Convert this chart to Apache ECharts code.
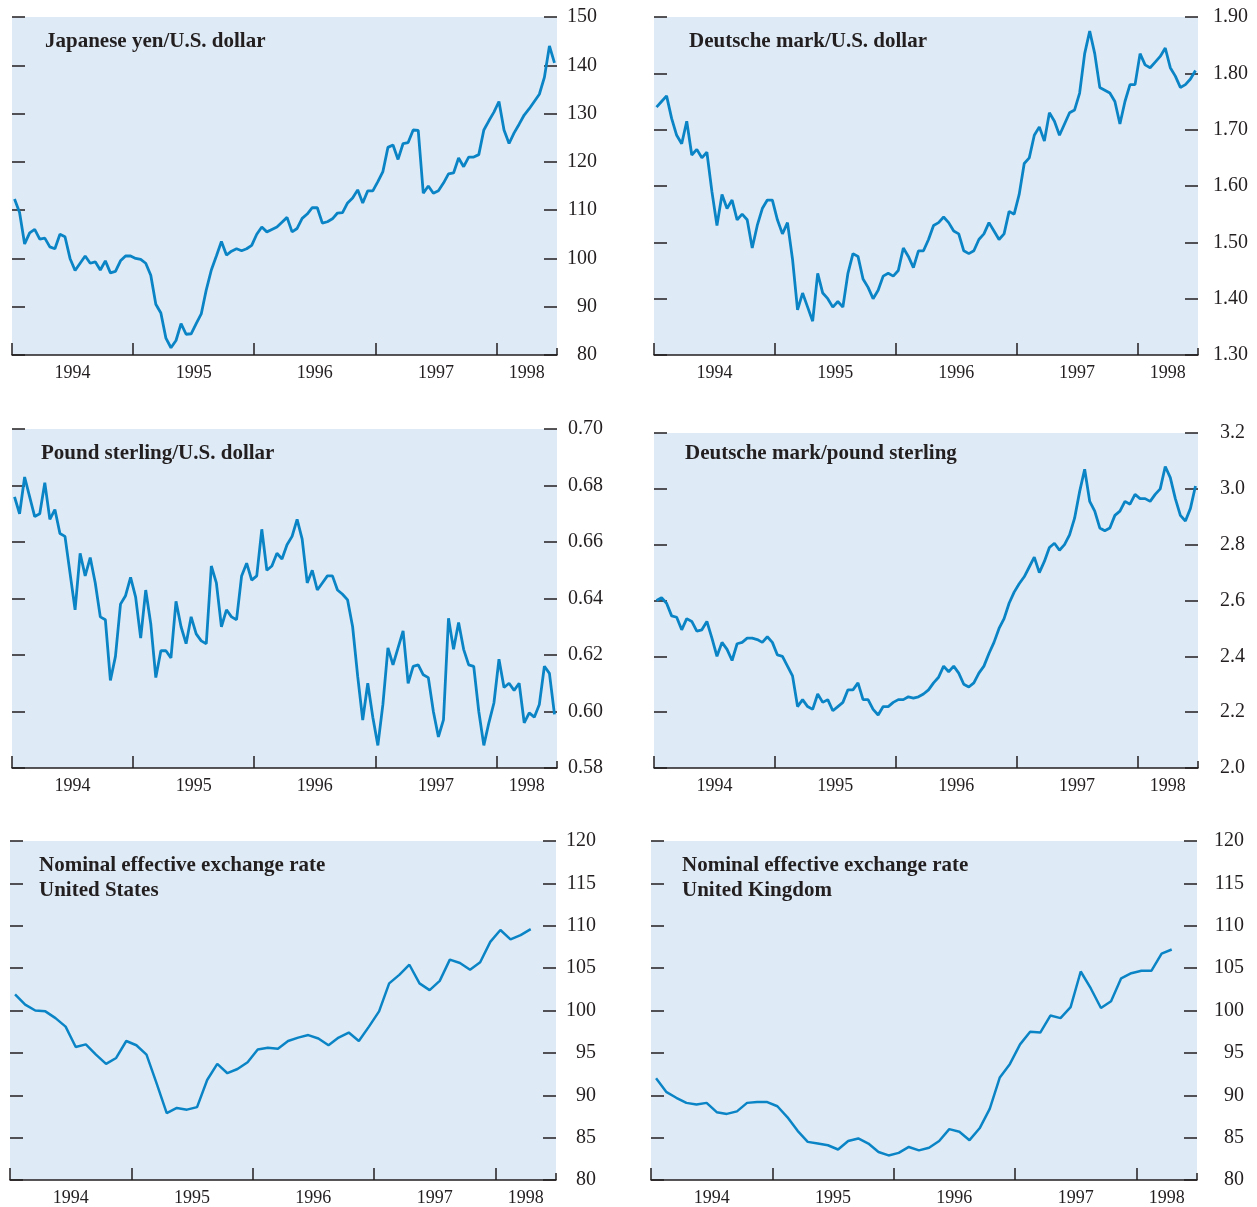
<!DOCTYPE html>
<html>
<head>
<meta charset="utf-8">
<title>Exchange rates 1994-98</title>
<script src="https://cdn.jsdelivr.net/npm/echarts@6/dist/echarts.min.js"></script>
<style>
  html, body { margin: 0; padding: 0; background: #fff; }
  #main { width: 1257px; height: 1207px; }
</style>
</head>
<body>
<div id="main"></div>
<script>
// x axis: years as decimal values
var yearTicks = [1994, 1995, 1996, 1997, 1998];
var endTick = [1998.5];
var yearLabelPos = [1994.5, 1995.5, 1996.5, 1997.5, 1998.25];

// semi-monthly readings, Jan 1994 - Jun 1998
var yenUsd = [
  112.3, 109.5, 103, 105.3, 106, 104, 104.2, 102.4, 102, 105, 104.5, 100,
  97.5, 99, 100.5, 99, 99.3, 97.6, 99.5, 97, 97.3, 99.5, 100.5, 100.5,
  100, 99.8, 99, 96.5, 90.5, 88.7, 83.5, 81.5, 83, 86.5, 84.3, 84.4,
  86.5, 88.5, 93.5, 97.6, 100.5, 103.5, 100.7, 101.5, 102, 101.6, 102, 102.7,
  105, 106.5, 105.5, 106, 106.5, 107.5, 108.5, 105.5, 106.2, 108.3, 109.2, 110.5,
  110.5, 107.3, 107.6, 108.2, 109.4, 109.5, 111.5, 112.5, 114.2, 111.5, 114, 114,
  115.9, 118, 123, 123.5, 120.5, 123.8, 124, 126.6, 126.5, 113.5, 115, 113.5,
  114, 115.6, 117.5, 117.7, 120.8, 119, 121, 121, 121.5, 126.6, 128.5, 130.3,
  132.5, 126.6, 123.8, 126, 127.8, 129.7, 131, 132.5, 134, 137.5, 144, 140.5
];
var dmUsd = [
  1.74, 1.75, 1.76, 1.72, 1.69, 1.675, 1.715, 1.655, 1.665, 1.65, 1.66, 1.59,
  1.53, 1.585, 1.56, 1.575, 1.54, 1.55, 1.54, 1.49, 1.53, 1.56, 1.575, 1.575,
  1.54, 1.515, 1.535, 1.47, 1.38, 1.41, 1.385, 1.36, 1.445, 1.41, 1.40, 1.385,
  1.395, 1.385, 1.445, 1.48, 1.475, 1.435, 1.42, 1.40, 1.415, 1.44, 1.445, 1.44,
  1.45, 1.49, 1.475, 1.455, 1.485, 1.485, 1.505, 1.53, 1.535, 1.545, 1.535, 1.52,
  1.515, 1.485, 1.48, 1.485, 1.505, 1.515, 1.535, 1.52, 1.505, 1.515, 1.555, 1.55,
  1.585, 1.64, 1.65, 1.69, 1.705, 1.68, 1.73, 1.715, 1.69, 1.71, 1.73, 1.735,
  1.765, 1.835, 1.875, 1.835, 1.775, 1.77, 1.765, 1.75, 1.71, 1.75, 1.78, 1.78,
  1.835, 1.815, 1.81, 1.82, 1.83, 1.845, 1.81, 1.795, 1.775, 1.78, 1.79, 1.805
];
var gbpUsd = [
  0.676, 0.670, 0.683, 0.676, 0.669, 0.670, 0.681, 0.668, 0.6715, 0.663, 0.662, 0.649,
  0.636, 0.656, 0.648, 0.6545, 0.6455, 0.6335, 0.6325, 0.611, 0.6195, 0.638, 0.641, 0.6475,
  0.6405, 0.626, 0.643, 0.631, 0.612, 0.6215, 0.6215, 0.619, 0.639, 0.630, 0.624, 0.6335,
  0.6275, 0.625, 0.624, 0.6515, 0.6455, 0.630, 0.636, 0.6335, 0.6325, 0.648, 0.6525, 0.6465,
  0.648, 0.6645, 0.650, 0.6515, 0.656, 0.654, 0.659, 0.662, 0.668, 0.661, 0.6455, 0.650,
  0.643, 0.6455, 0.648, 0.648, 0.643, 0.6415, 0.6395, 0.630, 0.6125, 0.597, 0.610, 0.598,
  0.588, 0.6025, 0.6225, 0.6165, 0.6225, 0.6285, 0.610, 0.616, 0.6165, 0.613, 0.612, 0.600,
  0.591, 0.597, 0.633, 0.622, 0.6315, 0.622, 0.6165, 0.616, 0.600, 0.588, 0.596, 0.603,
  0.6185, 0.6085, 0.610, 0.6075, 0.610, 0.596, 0.5995, 0.598, 0.6025, 0.616, 0.6135, 0.599
];
var dmGbp = [
  2.60, 2.61, 2.59, 2.545, 2.54, 2.495, 2.535, 2.525, 2.49, 2.495, 2.525, 2.465,
  2.40, 2.45, 2.425, 2.385, 2.445, 2.45, 2.465, 2.465, 2.46, 2.45, 2.47, 2.45,
  2.405, 2.40, 2.365, 2.33, 2.22, 2.245, 2.22, 2.21, 2.265, 2.235, 2.245, 2.205,
  2.22, 2.235, 2.28, 2.28, 2.305, 2.245, 2.245, 2.21, 2.19, 2.22, 2.22, 2.235,
  2.245, 2.245, 2.255, 2.25, 2.255, 2.265, 2.28, 2.305, 2.325, 2.365, 2.345, 2.365,
  2.34, 2.30, 2.29, 2.305, 2.34, 2.365, 2.41, 2.45, 2.50, 2.535, 2.59, 2.63,
  2.66, 2.685, 2.72, 2.755, 2.70, 2.74, 2.79, 2.805, 2.78, 2.80, 2.835, 2.895,
  2.99, 3.07, 2.955, 2.92, 2.86, 2.85, 2.86, 2.905, 2.92, 2.955, 2.945, 2.98,
  2.965, 2.965, 2.955, 2.98, 3.00, 3.08, 3.04, 2.965, 2.905, 2.885, 2.93, 3.01
];
// monthly, Jan 1994 - Apr 1998
var neerUs = [
  101.9, 100.7, 100.0, 99.9, 99.1, 98.1, 95.7, 96.0, 94.8, 93.7, 94.4, 96.4,
  95.9, 94.8, 91.4, 87.9, 88.5, 88.3, 88.6, 91.8, 93.7, 92.6, 93.1, 93.9,
  95.4, 95.6, 95.5, 96.4, 96.8, 97.1, 96.7, 95.9, 96.8, 97.4, 96.4, 98.1,
  99.9, 103.2, 104.2, 105.4, 103.2, 102.4, 103.5, 106.0, 105.6, 104.8, 105.7, 108.1,
  109.5, 108.4, 108.9, 109.6
];
var neerUk = [
  92.0, 90.4, 89.7, 89.1, 88.9, 89.1, 88.0, 87.8, 88.1, 89.1, 89.2, 89.2,
  88.7, 87.4, 85.8, 84.5, 84.3, 84.1, 83.6, 84.6, 84.9, 84.3, 83.3, 82.9,
  83.2, 83.9, 83.5, 83.8, 84.6, 86.0, 85.7, 84.7, 86.1, 88.4, 92.1, 93.7,
  96.0, 97.5, 97.4, 99.4, 99.1, 100.4, 104.6, 102.6, 100.3, 101.1, 103.8, 104.4,
  104.7, 104.7, 106.7, 107.2
];

var ink = '#231f20';
var lineBlue = '#0b84c6';
var serif = "'Liberation Serif', 'Times New Roman', serif";

function semiMonthly(arr) {
  return arr.map(function (v, i) { return [1994 + (i + 0.5) / 24, v]; });
}
function monthly(arr) {
  return arr.map(function (v, i) { return [1994 + (i + 0.5) / 12, v]; });
}

var panels = [
  { title: 'Japanese yen/U.S. dollar', tx: 45, ty: 29,
    rect: { left: 12, top: 17, width: 545, height: 338 },
    min: 80, max: 150, interval: 10, dec: 0, margin: 40, lw: 2.8, data: semiMonthly(yenUsd) },
  { title: 'Deutsche mark/U.S. dollar', tx: 689, ty: 29,
    rect: { left: 654, top: 17, width: 544, height: 338 },
    min: 1.3, max: 1.9, interval: 0.1, dec: 2, margin: 50, lw: 2.8, data: semiMonthly(dmUsd) },
  { title: 'Pound sterling/U.S. dollar', tx: 41, ty: 441,
    rect: { left: 12, top: 429, width: 545, height: 339 },
    min: 0.58, max: 0.70, interval: 0.02, dec: 2, margin: 46, lw: 2.8, data: semiMonthly(gbpUsd) },
  { title: 'Deutsche mark/pound sterling', tx: 685, ty: 441,
    rect: { left: 654, top: 433, width: 544, height: 335 },
    min: 2.0, max: 3.2, interval: 0.2, dec: 1, margin: 47, lw: 2.8, data: semiMonthly(dmGbp) },
  { title: 'Nominal effective exchange rate\nUnited States', tx: 39, ty: 853,
    rect: { left: 10, top: 841, width: 546, height: 339 },
    min: 80, max: 120, interval: 5, dec: 0, margin: 40, lw: 2.5, data: monthly(neerUs) },
  { title: 'Nominal effective exchange rate\nUnited Kingdom', tx: 682, ty: 853,
    rect: { left: 651, top: 841, width: 546, height: 339 },
    min: 80, max: 120, interval: 5, dec: 0, margin: 47, lw: 2.5, data: monthly(neerUk) }
];

var option = {
  animation: false,
  backgroundColor: '#ffffff',
  title: [], grid: [], xAxis: [], yAxis: [], series: []
};

panels.forEach(function (p, k) {
  option.title.push({
    text: p.title, left: p.tx, top: p.ty, padding: 0,
    textStyle: { fontFamily: serif, fontSize: 21, fontWeight: 'bold', color: ink, lineHeight: 25 }
  });
  option.grid.push({
    left: p.rect.left, top: p.rect.top, width: p.rect.width, height: p.rect.height,
    show: true, backgroundColor: '#deebf6', borderWidth: 0
  });
  // bottom axis with year ticks and labels
  option.xAxis.push({
    type: 'value', gridIndex: k, position: 'bottom', min: 1994, max: 1998.5,
    axisLine: { show: true, onZero: false, lineStyle: { color: ink, width: 1.5 } },
    axisTick: { show: true, inside: true, length: 12, customValues: yearTicks,
                lineStyle: { color: ink, width: 1.5 } },
    axisLabel: { customValues: yearLabelPos, margin: 9, fontFamily: serif, fontSize: 18, color: ink,
                 formatter: function (v) { return String(Math.floor(v)); } },
    splitLine: { show: false }
  });
  // short tick at the right end of the bottom axis
  option.xAxis.push({
    type: 'value', gridIndex: k, position: 'bottom', min: 1994, max: 1998.5,
    axisLine: { show: false, onZero: false },
    axisTick: { show: true, inside: true, length: 7, customValues: endTick,
                lineStyle: { color: ink, width: 1.5 } },
    axisLabel: { show: false },
    splitLine: { show: false }
  });
  // right axis with labels
  option.yAxis.push({
    type: 'value', gridIndex: k, position: 'right', min: p.min, max: p.max, interval: p.interval,
    axisLine: { show: false },
    axisTick: { show: true, inside: true, length: 13, lineStyle: { color: ink, width: 1.5 } },
    axisLabel: { align: 'right', margin: p.margin, fontFamily: serif, fontSize: 20, color: ink,
                 formatter: function (v) { return v.toFixed(p.dec); } },
    splitLine: { show: false }
  });
  // left axis: ticks only
  option.yAxis.push({
    type: 'value', gridIndex: k, position: 'left', min: p.min, max: p.max, interval: p.interval,
    axisLine: { show: false },
    axisTick: { show: true, inside: true, length: 13, lineStyle: { color: ink, width: 1.5 } },
    axisLabel: { show: false },
    splitLine: { show: false }
  });
  option.series.push({
    type: 'line', xAxisIndex: k * 2, yAxisIndex: k * 2, data: p.data,
    showSymbol: false, smooth: false,
    lineStyle: { color: lineBlue, width: p.lw }
  });
});

var myChart = echarts.init(document.getElementById('main'));
myChart.setOption(option);
window.onresize = myChart.resize;
</script>
</body>
</html>
